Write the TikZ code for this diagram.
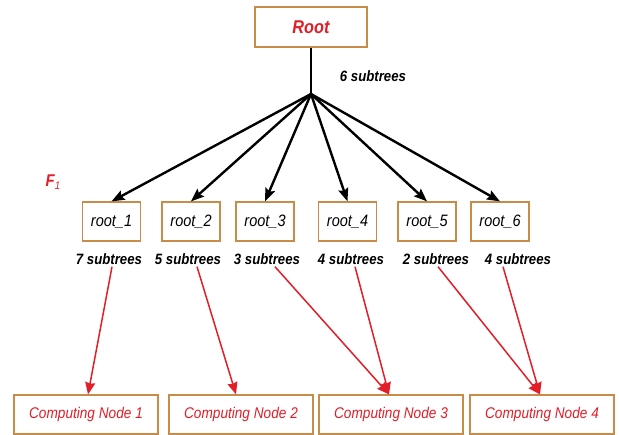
\documentclass[tikz,border=0pt]{standalone}
\usepackage{fontspec}
\setmainfont{Liberation Sans}[FakeStretch=0.88]
\usepackage{xcolor}
\usepackage{tikz}
\usetikzlibrary{positioning,arrows.meta,calc}
\definecolor{boxorange}{RGB}{200,140,72}
\definecolor{nodered}{RGB}{226,30,40}

\begin{document}
\begin{tikzpicture}[x=1pt,y=-1pt,
        box/.style={draw=boxorange,line width=1.2pt,fill=white,inner sep=0pt,minimum height=39pt},
        blackarrow/.style={line width=2.4pt,-{Stealth[length=13pt,width=10pt,inset=2pt]}},
        redarrow/.style={draw=nodered,line width=1.5pt,-{Stealth[length=12pt,width=10pt,inset=1pt]}},
        countlabel/.style={inner sep=2pt,font=\fontsize{15}{17}\selectfont\bfseries\itshape},
        compnode/.style={box,minimum width=144pt,text=nodered,font=\fontsize{15.5}{17}\selectfont\itshape}]
        \useasboundingbox (0,0) rectangle (619,435);

        % top of the tree
        \node[box,minimum width=112pt,minimum height=40pt,text=nodered,
              font=\fontsize{18.5}{20}\selectfont\bfseries\itshape] (root) at (311,27) {Root};
        \coordinate (J) at (311,94);
        \node[countlabel] (sroot) at (373,76) {6 subtrees};
        \node[text=nodered,font=\fontsize{17}{19}\selectfont\bfseries\itshape] (F) at (53,182)
            {F\raisebox{-0.4ex}{\fontsize{11}{12}\selectfont\mdseries 1}};

        \draw[line width=2.4pt] (root.south) -- (J);

        % subtree roots and their sizes
        \foreach \i/\x/\lx/\n in {1/111.5/109/7,2/191/188/5,3/265/267/3,4/347.5/351/4,5/427/436/2,6/500/518/4}{
            \node[box,minimum width=58pt,font=\fontsize{16.5}{18}\selectfont\itshape] (r\i) at (\x,221.5) {root\_\i};
            \node[countlabel] (s\i) at (\lx,259) {\n\ subtrees};
            \draw[blackarrow] (J) -- (r\i.north);
        }

        % computing nodes
        \node[compnode] (cn1) at (86,414.5) {Computing Node 1};
        \node[compnode] (cn2) at (241,414.5) {Computing Node 2};
        \node[compnode] (cn3) at (391,414.5) {Computing Node 3};
        \node[compnode] (cn4) at (542,414.5) {Computing Node 4};

        \draw[redarrow] ([xshift=3pt]s1.south) -- ([xshift=2pt]cn1.north);
        \draw[redarrow] ([xshift=9pt]s2.south) -- ([xshift=-5pt]cn2.north);
        \draw[redarrow] ([xshift=8pt]s3.south) -- ([xshift=-2pt]cn3.north);
        \draw[redarrow] ([xshift=4pt]s4.south) -- ([xshift=-2pt]cn3.north);
        \draw[redarrow] ([xshift=2pt]s5.south) -- ([xshift=-2pt]cn4.north);
        \draw[redarrow] ([xshift=-15pt]s6.south) -- ([xshift=-2pt]cn4.north);
    \end{tikzpicture}
\end{document}
